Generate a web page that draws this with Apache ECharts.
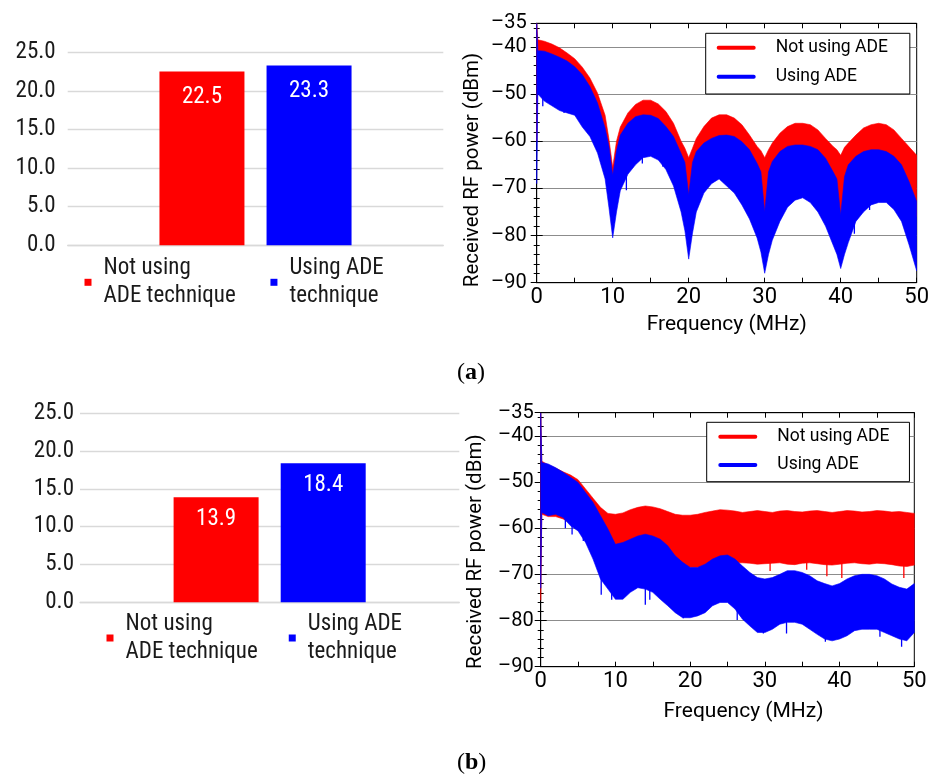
<!DOCTYPE html>
<html>
<head>
<meta charset="utf-8">
<title>ADE technique: SNR and received RF spectra</title>
<script src="https://cdn.jsdelivr.net/npm/echarts@6/dist/echarts.min.js"></script>
<style>
  html, body { margin: 0; padding: 0; background: #fff; }
  #chart { width: 936px; height: 774px; }
</style>
</head>
<body>
<div id="chart"></div>
<script>
// ---- bar panels ----
const barSeriesNames = ['Not using\nADE technique', 'Using ADE\ntechnique'];
const barValuesA = [22.5, 23.3];
const barValuesB = [13.9, 18.4];
const barTicks = [0, 5, 10, 15, 20, 25];

// ---- spectrum panels: upper / lower envelopes of each trace (dBm) ----
const specNames = ['Not using ADE', 'Using ADE'];
const freqTicks = [0, 10, 20, 30, 40, 50];
const powerTicks = [-90, -80, -70, -60, -50, -40, -35];

// panel (a)
const freqA = [0, 0.15, 1, 2, 3, 4, 5, 6, 7, 8, 9, 9.5, 10, 10.5, 11, 12, 13, 14, 15, 16, 17, 18, 19, 19.5, 20, 20.5,
  21, 22, 23, 24, 25, 26, 27, 28, 29, 29.5, 30, 30.5, 31, 32, 33, 34, 35, 36, 37, 38, 39, 39.5, 40, 40.5,
  41, 42, 43, 44, 45, 46, 47, 48, 49, 50];
const redUpperA = [-35, -38.5, -38.8, -39.4, -40.2, -41.3, -42.5, -44.3, -46.6, -49.8, -54.5, -59.5, -65.5, -60, -57, -54, -52.2, -51.3, -51.3, -52.1, -53.7, -56.2, -60, -61.5, -63.5, -61.5,
  -59.4, -56.9, -55.1, -54.4, -54.4, -55.1, -56.5, -58.7, -61.1, -62, -63.5, -61.8, -60.4, -58.3, -56.9, -56.2, -56.2, -56.5, -57.6, -59.4, -61.1, -61.8, -63, -61.3,
  -60.4, -58.7, -57.2, -56.5, -56.2, -56.5, -57.6, -59.4, -61.2, -63];
const redLowerA = [-60, -44, -44, -44.5, -45, -46, -47, -49, -51.5, -55, -60, -64, -69, -65, -61.5, -59, -58, -57.5, -57.5, -58, -60, -62, -65.5, -67.5, -73, -67.5,
  -65, -63.5, -62.5, -62, -62, -62, -63, -65, -67.5, -69.5, -77, -69.5, -67.5, -65, -64, -64, -64, -64, -65, -66.5, -69.5, -71, -77.5, -70.5,
  -68, -66, -65, -65, -65, -65, -66, -68, -71.5, -76];
const blueUpperA = [-35, -40.8, -40.9, -41.5, -42.2, -43, -44.2, -45.9, -48.4, -51.9, -57.2, -61, -67.2, -62, -58.7, -56.2, -54.8, -54.4, -54.5, -55.2, -56.9, -59, -62.6, -64.5, -71.4, -64.5,
  -62.2, -60.4, -59.4, -58.8, -58.7, -59, -60.1, -61.8, -64.7, -66.5, -75, -66.5, -64.3, -62.2, -61.1, -60.8, -60.8, -61.1, -61.8, -63.6, -66.5, -68, -75.7, -67.5,
  -65, -63.2, -62.2, -61.8, -61.8, -62.2, -63.2, -65, -68.6, -72.8];
const blueLowerA = [-69, -50, -51.5, -52.5, -53.5, -54, -54.5, -57, -59, -62.5, -68, -74, -80.5, -75, -70.5, -67, -65, -63.5, -63.2, -64, -66, -69.5, -75, -79, -85, -79.5,
  -75, -71, -69, -68, -69.5, -71, -73.5, -76.5, -80.5, -83.5, -88, -84, -81, -77, -74, -72.5, -72, -73, -75, -78, -82, -84, -87, -84,
  -81.5, -77, -75, -73.5, -73, -73, -74.5, -77, -82, -87.5];
// isolated downward spikes below the "Using ADE" band: [MHz, dBm at tip]
const blueSpikesA = [[0.8, -52.6], [1.9, -52.3], [3.6, -54], [4.3, -53.3], [6.5, -57.2], [7.1, -59], [7.8, -60.8], [8.9, -66.1],
  [11.8, -70.4], [12.6, -65.7], [13.9, -64.7], [16.6, -65.4], [17.9, -68.2], [23.6, -67.5], [25.8, -70.4], [27.1, -73.2],
  [35, -69.6], [36.3, -71.8], [37.2, -73.2], [41.8, -79.6], [43.8, -74.6], [47.7, -76], [48.6, -78.9]];
const redSpikesA = [];

// panel (b)
const freqB = [0, 0.15, 1, 2, 3, 4, 5, 6, 7, 8, 9, 10, 11, 12, 13, 14, 15, 16, 17, 18, 19, 20,
  21, 22, 23, 24, 25, 26, 27, 28, 29, 30, 31, 32, 33, 34, 35, 36, 37, 38, 39, 40,
  41, 42, 43, 44, 45, 46, 47, 48, 49, 50];
const redUpperB = [-35, -45.5, -46.3, -47, -47.8, -48.5, -49.5, -51.5, -53.5, -55.5, -56.8, -57, -56.7, -56, -55.5, -55.2, -55.4, -55.8, -56.4, -57, -57.2, -57.2,
  -57, -56.6, -56.3, -56, -56.1, -56.3, -56.6, -56.4, -56.2, -56.4, -56.6, -56.3, -56.2, -56.4, -56.5, -56.3, -56.2, -56.4, -56.6, -56.4,
  -56.2, -56.3, -56.5, -56.4, -56.2, -56.3, -56.5, -56.4, -56.6, -56.8];
const redLowerB = [-75.6, -57, -57.5, -57.5, -58, -59, -60, -62, -64, -65.5, -66, -66.5, -66.5, -66.5, -66.5, -66.5, -66.8, -67, -67.5, -68, -68.3, -68.5,
  -68.5, -68.3, -68, -67.8, -67.6, -67.5, -67.5, -67.6, -67.8, -67.7, -67.6, -67.5, -67.8, -67.9, -67.6, -67.5, -67.7, -67.9, -68, -67.8,
  -67.6, -67.5, -67.7, -67.8, -67.6, -67.7, -67.9, -68.2, -68.3, -68];
const blueUpperB = [-35, -45.8, -46.1, -46.9, -47.9, -49, -50.1, -52.3, -54.4, -57.3, -60.2, -63.5, -63.1, -62.4, -61.7, -61.3, -61.7, -62.4, -63.8, -66, -67.4, -68.5,
  -68.5, -67.8, -66.7, -66, -65.8, -66.7, -68.2, -69.6, -70.7, -71, -70.7, -70, -69.2, -69.2, -69.6, -70.3, -71.4, -72, -72.5, -72,
  -71, -70.3, -70, -70, -70.3, -71, -72.1, -72.8, -73.2, -72];
const blueLowerB = [-73, -56.6, -57.3, -57, -57.7, -59.5, -60.6, -63.1, -66.7, -71, -73.2, -75.4, -75.4, -73.9, -72.9, -73.2, -73.9, -75.4, -76.8, -78.3, -79.4, -79.4,
  -79, -78.3, -76.8, -76.1, -76.1, -77.5, -79.7, -81.2, -82.6, -82.6, -81.9, -80.8, -80.4, -80.4, -80.8, -81.9, -83, -84, -84.4, -84,
  -83.3, -82.2, -81.9, -81.9, -81.9, -82.6, -83.3, -84, -84.4, -82.6];
const blueSpikesB = [[3.3, -60], [4.2, -61.4], [5.7, -62.8], [8.1, -74.4], [9.5, -75.5], [11.1, -74.8], [14, -76.6], [14.6, -75.5],
  [16, -74.8], [19.1, -79.5], [26.3, -79.9], [29.8, -82.8], [32.9, -82.8], [38.1, -84.6], [39.2, -84.2], [45.4, -83.5], [48.3, -85.7]];
const redSpikesB = [[30.7, -69.3], [35.6, -69], [38.3, -70.4], [40.3, -70.8], [48.6, -70.8]];

const RED = '#ff0000';
const BLUE = '#0000ff';
const BAR_FONT = '"Roboto Condensed", Roboto, sans-serif';
const SPEC_FONT = 'Roboto, "Noto Sans", sans-serif';

// Filled band between an upper and a lower envelope, one polygon per trace.
function bandSeries(name, color, freq, upper, lower, xi, yi) {
  return {
    type: 'custom',
    name: name,
    xAxisIndex: xi,
    yAxisIndex: yi,
    clip: true,
    silent: true,
    itemStyle: { color: color },
    encode: { x: 0, y: [1, 2] },
    data: freq.map((f, i) => [f, upper[i], lower[i]]),
    renderItem: function (params, api) {
      if (params.dataIndex !== 0) return null;
      const pts = [];
      for (let i = 0; i < freq.length; i++) pts.push(api.coord([freq[i], upper[i]]));
      for (let i = freq.length - 1; i >= 0; i--) pts.push(api.coord([freq[i], lower[i]]));
      return {
        type: 'polygon',
        shape: { points: pts },
        style: { fill: color, stroke: color, lineWidth: 0.6 }
      };
    }
  };
}

// Thin vertical strokes from each spike tip back into the body of its band.
function spikeSeries(name, color, spikes, freq, upper, lower, xi, yi) {
  return {
    type: 'custom',
    name: name,
    xAxisIndex: xi,
    yAxisIndex: yi,
    clip: true,
    silent: true,
    itemStyle: { color: color },
    encode: { x: 0, y: 1 },
    data: spikes,
    renderItem: function (params, api) {
      const f = api.value(0);
      let k = 0;
      for (let i = 1; i < freq.length; i++) {
        if (Math.abs(freq[i] - f) < Math.abs(freq[k] - f)) k = i;
      }
      const a = api.coord([f, api.value(1)]);
      const b = api.coord([f, (upper[k] + lower[k]) / 2]);
      return {
        type: 'line',
        shape: { x1: a[0], y1: a[1], x2: b[0], y2: b[1] },
        style: { stroke: color, lineWidth: 1.3 }
      };
    }
  };
}

function barYAxis(gridIndex, margin) {
  return {
    type: 'value', gridIndex: gridIndex, min: barTicks[0], max: barTicks[barTicks.length - 1], interval: barTicks[1] - barTicks[0],
    axisLine: { show: false }, axisTick: { show: false },
    axisLabel: { margin: margin, color: '#1a1a1a', fontFamily: BAR_FONT, fontSize: 23, formatter: v => v.toFixed(1) },
    splitLine: { lineStyle: { color: '#d9d9d9', width: 1.3 } }
  };
}
function barXAxis(gridIndex) {
  return {
    type: 'category', gridIndex: gridIndex, data: [''],
    axisLine: { lineStyle: { color: '#d9d9d9', width: 1.3 } },
    axisTick: { show: false }, axisLabel: { show: false }
  };
}
function barSeries(name, color, value, xi, yi, dist) {
  return {
    type: 'bar', name: name, xAxisIndex: xi, yAxisIndex: yi,
    data: [value], barWidth: 85, barGap: '26%',
    itemStyle: { color: color },
    label: {
      show: true, position: 'insideTop', distance: dist, color: '#fff',
      fontFamily: BAR_FONT, fontSize: 23, formatter: p => p.value.toFixed(1)
    }
  };
}

const dash = v => String(v).replace('-', '\u2013');
function freqAxis(gridIndex, top, nameGap, namePad, labelMargin) {
  return {
    type: 'value', gridIndex: gridIndex, position: top ? 'top' : 'bottom',
    min: freqTicks[0], max: freqTicks[freqTicks.length - 1], interval: 5,
    name: top ? '' : 'Frequency (MHz)', nameLocation: 'middle', nameGap: nameGap,
    nameTextStyle: { fontFamily: SPEC_FONT, fontSize: 21, color: '#000', padding: namePad },
    axisLine: { lineStyle: { color: '#000', width: 1 } },
    axisTick: { inside: true, length: 5, lineStyle: { color: '#000' } },
    axisLabel: {
      show: !top, margin: labelMargin, color: '#000', fontFamily: SPEC_FONT, fontSize: 22,
      formatter: v => (freqTicks.indexOf(v) >= 0 ? String(v) : '')
    },
    splitLine: { show: false }
  };
}
function powerAxis(gridIndex, right, nameGap, namePad, labelMargin) {
  return {
    type: 'value', gridIndex: gridIndex, position: right ? 'right' : 'left',
    min: powerTicks[0], max: powerTicks[powerTicks.length - 1], interval: 10,
    name: right ? '' : 'Received RF power (dBm)', nameLocation: 'middle', nameGap: nameGap,
    nameTextStyle: { fontFamily: SPEC_FONT, fontSize: 20.5, color: '#000', padding: namePad },
    axisLine: { lineStyle: { color: '#000', width: 1 } },
    axisTick: { inside: true, length: 6, lineStyle: { color: '#000' } },
    minorTick: { show: true, splitNumber: 5, length: 3, lineStyle: { color: '#000' } },
    axisLabel: { show: !right, margin: labelMargin, color: '#000', fontFamily: SPEC_FONT, fontSize: 20, formatter: dash },
    splitLine: { show: !right, lineStyle: { color: '#8c8c8c', width: 1 } }
  };
}
function barLegend(left, top, gap) {
  return {
    left: left, top: top, orient: 'horizontal', padding: 0, itemGap: gap,
    itemWidth: 7, itemHeight: 7, icon: 'rect', selectedMode: false,
    data: barSeriesNames,
    textStyle: { fontFamily: BAR_FONT, fontSize: 23, lineHeight: 28.5, color: '#1a1a1a', padding: [0, 0, 0, 7] }
  };
}
const lineIcon = 'path://M2,0 L38,0 A2,2 0 0 1 38,4 L2,4 A2,2 0 0 1 2,0 Z';
function specLegend(left, top, pad, gap) {
  return {
    left: left, top: top, orient: 'vertical', padding: pad, itemGap: gap,
    itemWidth: 39, itemHeight: 4, icon: lineIcon, selectedMode: false,
    backgroundColor: '#fff', borderColor: '#000', borderWidth: 1,
    data: specNames,
    textStyle: { fontFamily: SPEC_FONT, fontSize: 17.5, lineHeight: 20, color: '#000', padding: [0, 0, 0, 15] }
  };
}
function caption(letter, top) {
  return {
    text: '({b|' + letter + '})', left: 457, top: top, padding: 0,
    textStyle: {
      fontFamily: '"Liberation Serif", serif', fontSize: 24, fontWeight: 'normal', color: '#000',
      rich: { b: { fontFamily: '"Liberation Serif", serif', fontSize: 24, fontWeight: 'bold', color: '#000' } }
    }
  };
}

const chart = echarts.init(document.getElementById('chart'), null, { renderer: 'canvas' });
chart.setOption({
  animation: false,
  backgroundColor: '#fff',
  title: [caption('a', 361), caption('b', 751)],
  grid: [
    { left: 67.7, top: 52.3, width: 375.6, height: 193 },
    { left: 536.7, top: 23.3, width: 380, height: 259.4, show: true, borderColor: '#000', borderWidth: 1, backgroundColor: 'transparent' },
    { left: 80, top: 413.3, width: 379.3, height: 189 },
    { left: 540.7, top: 412.7, width: 373.6, height: 254, show: true, borderColor: '#000', borderWidth: 1, backgroundColor: 'transparent' }
  ],
  legend: [
    barLegend(84.5, 253.8, 34.7),
    specLegend(705.7, 33.3, [4.4, 22, 7.3, 11], 9),
    barLegend(106.5, 609.5, 31),
    specLegend(706.7, 422.3, [4.4, 20, 6.7, 11.6], 8.3)
  ],
  xAxis: [
    barXAxis(0),
    freqAxis(1, false, 31.8, [0, 0, 0, 0], 4),
    freqAxis(1, true, 0, 0, 4),
    barXAxis(2),
    freqAxis(3, false, 34.5, [0, 0, 0, 32], 4),
    freqAxis(3, true, 0, 0, 4)
  ],
  yAxis: [
    barYAxis(0, 12),
    powerAxis(1, false, 53.4, [0, 34, 0, 0], 10),
    powerAxis(1, true, 0, 0, 0),
    barYAxis(2, 6),
    powerAxis(3, false, 54, [0, 24, 0, 0], 7),
    powerAxis(3, true, 0, 0, 0)
  ],
  series: [
    barSeries(barSeriesNames[0], RED, barValuesA[0], 0, 0, 14.5),
    barSeries(barSeriesNames[1], BLUE, barValuesA[1], 0, 0, 14.5),
    bandSeries(specNames[0], RED, freqA, redUpperA, redLowerA, 1, 1),
    spikeSeries(specNames[0], RED, redSpikesA, freqA, redUpperA, redLowerA, 1, 1),
    bandSeries(specNames[1], BLUE, freqA, blueUpperA, blueLowerA, 1, 1),
    spikeSeries(specNames[1], BLUE, blueSpikesA, freqA, blueUpperA, blueLowerA, 1, 1),
    barSeries(barSeriesNames[0], RED, barValuesB[0], 3, 3, 11),
    barSeries(barSeriesNames[1], BLUE, barValuesB[1], 3, 3, 11),
    bandSeries(specNames[0], RED, freqB, redUpperB, redLowerB, 4, 4),
    spikeSeries(specNames[0], RED, redSpikesB, freqB, redUpperB, redLowerB, 4, 4),
    bandSeries(specNames[1], BLUE, freqB, blueUpperB, blueLowerB, 4, 4),
    spikeSeries(specNames[1], BLUE, blueSpikesB, freqB, blueUpperB, blueLowerB, 4, 4)
  ]
});
</script>
</body>
</html>
